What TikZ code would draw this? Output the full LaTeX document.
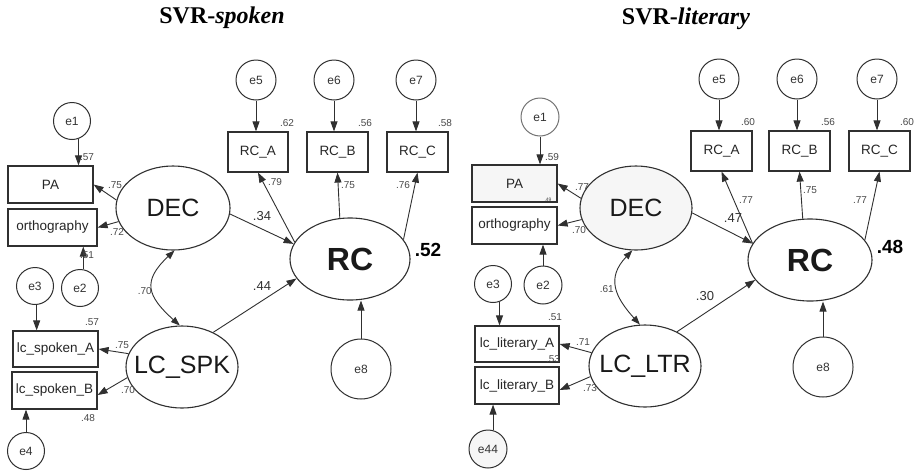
\documentclass[tikz,border=0pt]{standalone}
\usepackage{fontspec}
\setmainfont{Liberation Sans}
\newfontfamily\titlefont{Liberation Serif}
\usetikzlibrary{arrows.meta,shapes.geometric}
\definecolor{ln}{HTML}{303030}
\definecolor{lbl}{HTML}{484848}
\definecolor{faint}{HTML}{F6F6F6}
\tikzset{
  obs/.style={draw=ln, line width=1.2pt, rectangle, inner sep=0pt, text=black!85, font=\fontsize{13.5}{14}\selectfont},
  errc/.style={draw=ln, line width=1pt, circle, inner sep=0pt, minimum size=37pt, text=black!80, font=\fontsize{12}{13}\selectfont},
  lat/.style={draw=ln, line width=1.1pt, ellipse, inner sep=0pt, text=black!90, font=\fontsize{25}{26}\selectfont},
  conn/.style={draw=ln, line width=0.9pt, -{Triangle[length=10pt,width=7pt]}},
  cov/.style={draw=ln, line width=0.9pt, {Triangle[length=9pt,width=6.5pt]}-{Triangle[length=9pt,width=6.5pt]}},
  lab/.style={text=lbl, inner sep=0pt, font=\fontsize{10}{11}\selectfont},
  blab/.style={text=black!80, inner sep=0pt, font=\fontsize{13}{14}\selectfont},
  rsq/.style={text=black, inner sep=0pt, font=\fontsize{19}{20}\selectfont\bfseries},
  ttl/.style={inner sep=0pt, anchor=base, font=\titlefont\fontsize{24}{26}\selectfont\bfseries},
}
\begin{document}
\begin{tikzpicture}[x=1pt,y=-1pt]
\fill[white] (0,0) rectangle (917,472);
\useasboundingbox (0,0) rectangle (917,472);

% ---------------- titles
\node[ttl] (t1) at (222,23.5) {SVR-\textit{spoken}};
\node[ttl] (t2) at (686,24) {SVR-\textit{literary}};

% ================= LEFT PANEL
\node[errc] (e1) at (72,121) {e1};
\node[obs, minimum width=85pt, minimum height=37pt] (pa) at (50.5,184.5) {PA};
\node[obs, minimum width=89pt, minimum height=37pt] (or) at (52.5,227.5) {orthography};
\node[errc] (e2) at (80,288) {e2};
\node[errc] (e3) at (35,286) {e3};
\node[obs, minimum width=85pt, minimum height=36pt] (la) at (55.5,349) {lc\_spoken\_A};
\node[obs, minimum width=85pt, minimum height=37pt] (lb) at (54.5,390.5) {lc\_spoken\_B};
\node[errc] (e4) at (26,451) {e4};
\node[lat, minimum width=114pt, minimum height=84pt] (dec) at (173,208) {DEC};
\node[lat, minimum width=112pt, minimum height=82pt] (lc) at (182,367) {\makebox[0pt]{LC\_SPK}};
\node[lat, minimum width=120pt, minimum height=82pt, font=\fontsize{32}{34}\selectfont\bfseries] (rc) at (350,259) {RC};
\node[obs, minimum width=60pt, minimum height=40pt] (rca) at (258,152) {RC\_A};
\node[obs, minimum width=61pt, minimum height=40pt] (rcb) at (337.5,152) {RC\_B};
\node[obs, minimum width=61pt, minimum height=40pt] (rcc) at (417.5,152) {RC\_C};
\node[errc, minimum size=40pt] (e5) at (256,80) {e5};
\node[errc, minimum size=40pt] (e6) at (334,80) {e6};
\node[errc, minimum size=40pt] (e7) at (416,80) {e7};
\node[errc, minimum size=60pt] (e8) at (361,369) {e8};

\draw[conn] (e1.290) -- (e1.290 |- pa.north);
\draw[conn] (e2.80) -- (e2.80 |- or.south);
\draw[conn] (e3.275) -- (e3.275 |- la.north);
\draw[conn] (e4.north) -- (e4.north |- lb.south);
\draw[conn] (dec.172) -- (pa.east);
\draw[conn] (dec.194) -- (or.east);
\draw[conn] (dec.354) -- (rc.165);
\draw[conn] (rc.163) -- (rca.south);
\draw[conn] (rc.104) -- (rcb.south);
\draw[conn] (rc.20) -- (rcc.south);
\draw[conn] (e5.south) -- (e5.south |- rca.north);
\draw[conn] (e6.south) -- (e6.south |- rcb.north);
\draw[conn] (e7.south) -- (e7.south |- rcc.north);
\draw[conn] (lc.48) -- (rc.200);
\draw[conn] (lc.166) -- (la.east);
\draw[conn] (lc.191) -- (lb.354);
\draw[conn] (e8.north) -- (e8.north |- rc.south);
\draw[cov] (dec.272) .. controls (142,281) and (147,296) .. (lc.93);

\node[lab] (a1) at (87,157) {.57};
\node[lab] (a2) at (115,185) {.75};
\node[lab] (a3) at (117,232) {.72};
\node[lab] (a4) at (87,255) {.51};
\node[lab] (a5) at (287,123) {.62};
\node[lab] (a6) at (365,123) {.56};
\node[lab] (a7) at (445,123) {.58};
\node[lab] (a8) at (275,182) {.79};
\node[lab] (a9) at (348,185) {.75};
\node[lab] (a10) at (403,185) {.76};
\node[lab, anchor=east] (a11) at (152,291) {.70};
\node[lab] (a12) at (92,322) {.57};
\node[lab] (a13) at (122,345) {.75};
\node[lab] (a14) at (128,390) {.70};
\node[lab] (a15) at (88,418) {.48};
\node[blab] (a16) at (262,216) {.34};
\node[blab] (a17) at (262,286) {.44};
\node[rsq] (a18) at (428,250) {.52};

% ================= RIGHT PANEL
\node[errc, minimum size=38pt, draw=black!55] (e1b) at (540,117) {e1};
\node[obs, minimum width=85pt, minimum height=37pt, fill=faint] (pab) at (514.5,183.5) {PA};
\node[obs, minimum width=85pt, minimum height=37pt] (orb) at (514.5,225.5) {orthography};
\node[errc, minimum size=38pt] (e2b) at (543,285) {e2};
\node[errc] (e3b) at (493,284) {e3};
\node[obs, minimum width=84pt, minimum height=36pt] (lab) at (517,344) {lc\_literary\_A};
\node[obs, minimum width=84pt, minimum height=37pt] (lbb) at (517,385.5) {lc\_literary\_B};
\node[errc, minimum size=38pt, fill=faint] (e44) at (488,449) {e44};
\node[lat, minimum width=112pt, minimum height=84pt, fill=faint] (decb) at (636,208) {DEC};
\node[lat, minimum width=112pt, minimum height=82pt] (lcb) at (645,366) {\makebox[0pt]{LC\_LTR}};
\node[lat, minimum width=124pt, minimum height=82pt, font=\fontsize{32}{34}\selectfont\bfseries] (rcbig) at (810,260) {RC};
\node[obs, minimum width=61pt, minimum height=40pt] (rcab) at (721.5,151) {RC\_A};
\node[obs, minimum width=61pt, minimum height=40pt] (rcbb) at (799.5,151) {RC\_B};
\node[obs, minimum width=61pt, minimum height=40pt] (rccb) at (879.5,151) {RC\_C};
\node[errc, minimum size=40pt] (e5b) at (719,79) {e5};
\node[errc, minimum size=40pt] (e6b) at (797,79) {e6};
\node[errc, minimum size=40pt] (e7b) at (877,79) {e7};
\node[errc, minimum size=60pt] (e8b) at (823,367) {e8};

\draw[conn] (e1b.south) -- (e1b.south |- pab.north);
\draw[conn] (e2b.north) -- (e2b.north |- orb.south);
\draw[conn] (e3b.290) -- (e3b.290 |- lab.north);
\draw[conn] (e44.75) -- (e44.75 |- lbb.south);
\draw[conn] (decb.170) -- (pab.east);
\draw[conn] (decb.192) -- (orb.east);
\draw[conn] (decb.355) -- (rcbig.164);
\draw[conn] (rcbig.164) -- (rcab.south);
\draw[conn] (rcbig.100) -- (rcbb.south);
\draw[conn] (rcbig.20) -- (rccb.south);
\draw[conn] (e5b.south) -- (e5b.south |- rcab.north);
\draw[conn] (e6b.south) -- (e6b.south |- rcbb.north);
\draw[conn] (e7b.south) -- (e7b.south |- rccb.north);
\draw[conn] (lcb.47) -- (rcbig.200);
\draw[conn] (lcb.166) -- (lab.east);
\draw[conn] (lcb.191) -- (lbb.354);
\draw[conn] (e8b.north) -- (e8b.north |- rcbig.south);
\draw[cov] (decb.265) .. controls (606,278) and (615,297) .. (lcb.97);

\node[lab] (b1) at (552,157) {.59};
\node[lab] (b2) at (582,187) {.77};
\node[lab] (b3) at (579,230) {.70};
\node[lab, font=\fontsize{5}{5}\selectfont] (b4) at (548,199.5) {.49};
\node[lab] (b5) at (748,122) {.60};
\node[lab] (b6) at (828,122) {.56};
\node[lab] (b7) at (907,122) {.60};
\node[lab] (b8) at (746,200) {.77};
\node[lab] (b9) at (810,190) {.75};
\node[lab] (b10) at (860,200) {.77};
\node[lab, anchor=east] (b11) at (614,289) {.61};
\node[lab] (b12) at (555,317) {.51};
\node[lab] (b13) at (553,359) {.53};
\node[lab] (b14) at (583,342) {.71};
\node[lab] (b15) at (590,388) {.73};
\node[blab] (b16) at (733,218) {.47};
\node[blab] (b17) at (705,296) {.30};
\node[rsq] (b18) at (890,247) {.48};
\end{tikzpicture}
\end{document}
